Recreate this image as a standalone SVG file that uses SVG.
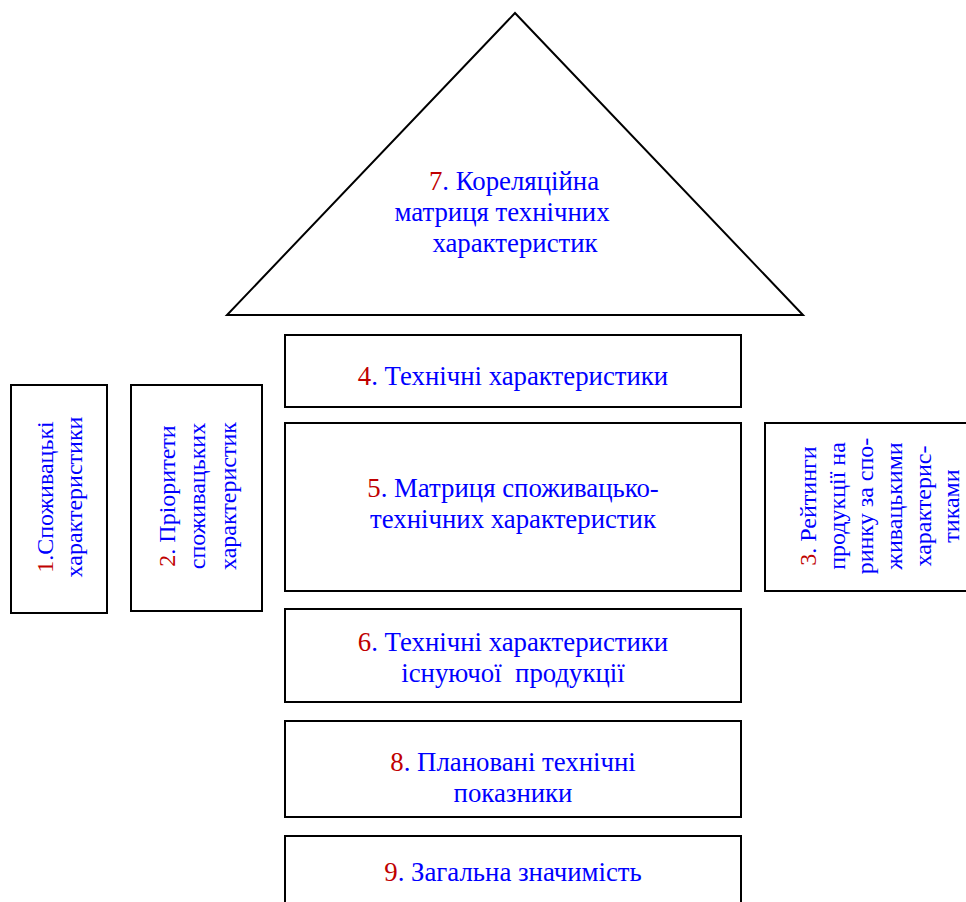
<svg xmlns="http://www.w3.org/2000/svg" width="966" height="902" viewBox="0 0 966 902">
<style>
.s{fill:#fff;stroke:#000;stroke-width:2}
.t{font-family:"Liberation Serif","Times New Roman",serif;font-size:26.8px;fill:#0000ff;text-anchor:middle}
.v{font-size:24px}
.r{fill:#c00000}
</style>
<rect width="966" height="902" fill="#fff"/>
<g id="n7"><polygon class="s" points="515,13 227,315 803,315"/>
<text class="t"><tspan x="514" y="190"><tspan class="r">7</tspan>. Кореляційна</tspan><tspan x="502" y="221">матриця технічних</tspan><tspan x="515" y="252">характеристик</tspan></text></g>
<g id="n4"><rect class="s" x="285" y="335" width="456" height="72"/>
<text class="t" x="513" y="385"><tspan class="r">4</tspan>. Технічні характеристики</text></g>
<g id="n5"><rect class="s" x="285" y="423" width="456" height="168"/>
<text class="t"><tspan x="513" y="497"><tspan class="r">5</tspan>. Матриця споживацько-</tspan><tspan x="513" y="528">технічних характеристик</tspan></text></g>
<g id="n6"><rect class="s" x="285" y="609" width="456" height="93"/>
<text class="t" xml:space="preserve"><tspan x="513" y="651"><tspan class="r">6</tspan>. Технічні характеристики</tspan><tspan x="513" y="682">існуючої  продукції</tspan></text></g>
<g id="n8"><rect class="s" x="285" y="721" width="456" height="96"/>
<text class="t"><tspan x="513" y="771"><tspan class="r">8</tspan>. Плановані технічні</tspan><tspan x="513" y="802">показники</tspan></text></g>
<g id="n9"><rect class="s" x="285" y="836" width="456" height="80"/>
<text class="t" x="513" y="881"><tspan class="r">9</tspan>. Загальна значимість</text></g>
<g id="n1"><rect class="s" x="11" y="385" width="96" height="228"/>
<text class="t v" transform="translate(53,497) rotate(-90)"><tspan x="0" y="0"><tspan class="r">1</tspan>.Споживацькі</tspan><tspan x="0" y="29">характеристики</tspan></text></g>
<g id="n2"><rect class="s" x="131" y="385" width="131" height="226"/>
<text class="t v" transform="translate(175,496) rotate(-90)"><tspan x="0" y="0"><tspan class="r">2</tspan>. Пріоритети</tspan><tspan x="0" y="30">споживацьких</tspan><tspan x="0" y="61">характеристик</tspan></text></g>
<g id="n3"><rect class="s" x="765" y="423" width="210" height="168"/>
<text class="t v" transform="translate(816,506) rotate(-90)"><tspan x="0" y="0"><tspan class="r">3</tspan>. Рейтинги</tspan><tspan x="0" y="29">продукції на</tspan><tspan x="0" y="57">ринку за спо-</tspan><tspan x="0" y="86">живацькими</tspan><tspan x="0" y="115">характерис-</tspan><tspan x="0" y="143">тиками</tspan></text></g>
<g id="connectors"/>
</svg>
